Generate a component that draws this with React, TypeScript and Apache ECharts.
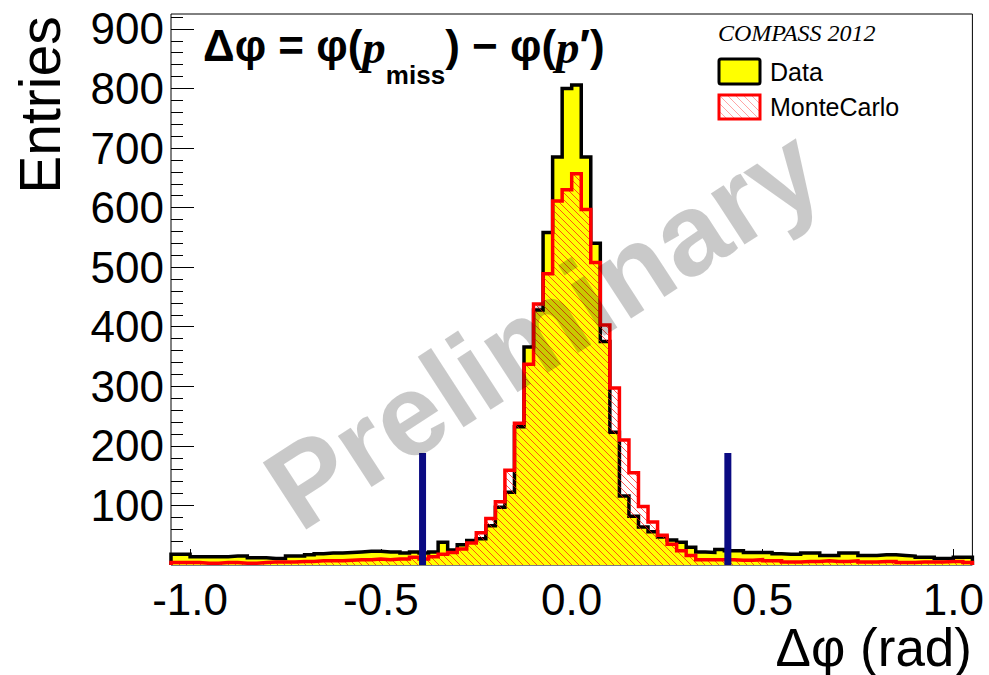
import React, { useEffect, useRef } from 'react';
import * as echarts from 'echarts';

// ---- data ----
const X_MIN = -1.05;
const X_MAX = 1.05;
const BIN_WIDTH = 0.025;

// Data histogram (84 bins of 0.025 rad from -1.05 to 1.05)
const dataCounts = [
  18, 18, 14, 14, 14, 14, 15, 15, 12, 12,
  11, 11, 15, 15, 17, 19, 20, 20, 21, 22,
  23, 23, 22, 22, 20, 22, 20, 22, 38, 25,
  34, 41, 44, 66, 97, 122, 232, 366, 428, 558,
  685, 800, 806, 685, 540, 375, 223, 116, 82, 64,
  56, 47, 42, 38, 30, 22, 21, 26, 24, 24,
  21, 21, 21, 19, 18, 18, 20, 20, 16, 16,
  20, 20, 16, 16, 17, 17, 16, 15, 13, 13,
  11, 11, 13, 13,
];

// Monte Carlo histogram (same binning)
const mcCounts = [
  4, 4, 4, 3, 3, 4, 4, 3, 3, 4,
  5, 5, 5, 6, 6, 7, 7, 7, 8, 9,
  9, 10, 9, 10, 10, 13, 10, 14, 18, 21,
  27, 37, 54, 78, 106, 159, 238, 337, 438, 489,
  611, 630, 657, 597, 508, 403, 297, 210, 155, 98,
  72, 50, 35, 24, 16, 9, 9, 9, 9, 8,
  8, 9, 7, 7, 5, 5, 6, 6, 7, 6,
  6, 7, 5, 5, 6, 6, 4, 4, 5, 5,
  5, 6, 6, 4,
];

const xMajorTicks = [-1.0, -0.5, 0.0, 0.5, 1.0];
const xMinorTicks = [-1.0, -0.9, -0.8, -0.7, -0.6, -0.5, -0.4, -0.3, -0.2, -0.1, 0.0,
  0.1, 0.2, 0.3, 0.4, 0.5, 0.6, 0.7, 0.8, 0.9, 1.0];
const yMajorTicks = [100, 200, 300, 400, 500, 600, 700, 800, 900];
const Y_MAX = 925;
const Y_MINOR_STEP = 20;

const cutLines = [-0.4, 0.4];
const cutHeight = 188;

const legendTitle = 'COMPASS 2012';
const seriesNames = ['Data', 'MonteCarlo'];

function stepPoints(counts: number[]): number[][] {
  const pts: number[][] = [[X_MIN, 0]];
  counts.forEach((c, i) => {
    const lo = X_MIN + i * BIN_WIDTH;
    const hi = lo + BIN_WIDTH;
    pts.push([lo, c], [hi, c]);
  });
  pts.push([X_MAX, 0]);
  return pts;
}

const hatchSvg =
  '<svg xmlns="http://www.w3.org/2000/svg" width="7" height="7">' +
  '<path d="M0 0L7 7M-2 5L2 9M5 -2L9 2" stroke="#ff1010" stroke-width="1" stroke-opacity="0.7" fill="none"/></svg>';
const hatchUrl = 'data:image/svg+xml;charset=utf-8,' + encodeURIComponent(hatchSvg);
const hatchLegendSvg =
  '<svg xmlns="http://www.w3.org/2000/svg" width="8" height="8">' +
  '<path d="M0 0L8 8M-2 6L2 10M6 -2L10 2" stroke="#ff3030" stroke-width="0.8" stroke-opacity="0.55" fill="none"/></svg>';
const hatchLegendUrl = 'data:image/svg+xml;charset=utf-8,' + encodeURIComponent(hatchLegendSvg);

export default function App() {
  const ref = useRef<HTMLDivElement>(null);

  useEffect(() => {
    if (!ref.current) return;
    const chart = echarts.init(ref.current, undefined, { renderer: 'svg' });
    const hatch: any = { image: hatchUrl, repeat: 'repeat', imageWidth: 7, imageHeight: 7 };
    const hatchLegend: any = { image: hatchLegendUrl, repeat: 'repeat', imageWidth: 8, imageHeight: 8 };

    const yMinorTicks: number[] = [];
    for (let v = Y_MINOR_STEP; v < Y_MAX; v += Y_MINOR_STEP) yMinorTicks.push(v);

    const labelFont = { fontFamily: 'Liberation Sans', fontSize: 44, lineHeight: 40, color: '#000' };
    const noLine = { show: false, onZero: false };

    const option: any = {
      animation: false,
      backgroundColor: '#fff',
      grid: {
        left: 171, right: 16.6, top: 14, bottom: 110,
        show: true, borderColor: '#000', borderWidth: 1, backgroundColor: 'transparent',
      },
      xAxis: [
        {
          type: 'value', position: 'bottom', min: X_MIN, max: X_MAX,
          axisLine: noLine, splitLine: { show: false },
          axisTick: { show: true, inside: true, length: 16, customValues: xMajorTicks, lineStyle: { color: '#000', width: 1 } },
          axisLabel: { show: true, customValues: xMajorTicks, formatter: (v: number) => v.toFixed(1), margin: 14, ...labelFont },
        },
        {
          type: 'value', position: 'bottom', offset: 0, min: X_MIN, max: X_MAX,
          axisLine: noLine, splitLine: { show: false },
          axisTick: { show: true, inside: true, length: 8, customValues: xMinorTicks, lineStyle: { color: '#000', width: 1 } },
          axisLabel: { show: false },
        },
      ],
      yAxis: [
        {
          type: 'value', position: 'left', min: 0, max: Y_MAX,
          axisLine: noLine, splitLine: { show: false },
          axisTick: { show: true, inside: true, length: 23, customValues: yMajorTicks, lineStyle: { color: '#000', width: 1 } },
          axisLabel: { show: true, customValues: yMajorTicks, formatter: (v: number) => String(v), margin: 7, ...labelFont },
        },
        {
          type: 'value', position: 'left', offset: 0, min: 0, max: Y_MAX,
          axisLine: noLine, splitLine: { show: false },
          axisTick: { show: true, inside: true, length: 12, customValues: yMinorTicks, lineStyle: { color: '#000', width: 1 } },
          axisLabel: { show: false },
        },
      ],
      series: [
        {
          name: seriesNames[0], type: 'line', xAxisIndex: 0, yAxisIndex: 0,
          data: stepPoints(dataCounts), symbol: 'none', showSymbol: false,
          lineStyle: { color: '#000', width: 3.5, join: 'miter', cap: 'butt' },
          areaStyle: { color: '#ffff00', opacity: 1 },
          z: 2,
        },
        {
          name: seriesNames[1], type: 'line', xAxisIndex: 0, yAxisIndex: 0,
          data: stepPoints(mcCounts), symbol: 'none', showSymbol: false,
          lineStyle: { color: '#ff0000', width: 3.5, join: 'miter', cap: 'butt' },
          areaStyle: { color: hatch, opacity: 1 },
          z: 3,
        },
        {
          type: 'custom', xAxisIndex: 0, yAxisIndex: 0, z: 5,
          data: cutLines.map((x) => [x, cutHeight]),
          renderItem: (params: any, api: any) => {
            const p0 = api.coord([api.value(0), 0]);
            const p1 = api.coord([api.value(0), api.value(1)]);
            return {
              type: 'rect',
              shape: { x: p0[0], y: p1[1], width: 7, height: p0[1] - p1[1] },
              style: { fill: '#0a0a82' },
            };
          },
        },
      ],
      graphic: [
        // watermark
        {
          type: 'text', x: 543, y: 328, rotation: (33 * Math.PI) / 180, z: 100,
          style: {
            text: 'Preliminary', fontFamily: 'Liberation Sans', fontWeight: 'bold', fontSize: 116,
            fill: 'rgba(0,0,0,0.21)', align: 'center', verticalAlign: 'middle',
            textAlign: 'center', textVerticalAlign: 'middle',
          },
        },
        // title (single rich text)
        {
          type: 'text', x: 203, y: 23, z: 50,
          style: {
            text: '{m|Δφ = φ(}{i|p}{s|miss}{m|) − φ(}{i|p}{m|′)}',
            fill: '#000', align: 'left', verticalAlign: 'top', textAlign: 'left', textVerticalAlign: 'top',
            rich: {
              m: { fontFamily: 'Liberation Sans', fontWeight: 'bold', fontSize: 44, lineHeight: 50, verticalAlign: 'top', fill: '#000' },
              i: { fontFamily: 'Liberation Serif', fontWeight: 'bold', fontStyle: 'italic', fontSize: 47, lineHeight: 50, verticalAlign: 'top', fill: '#000' },
              s: { fontFamily: 'Liberation Sans', fontWeight: 'bold', fontSize: 26, lineHeight: 26, verticalAlign: 'top', padding: [39, 0, 0, 0], fill: '#000' },
            },
          },
        },
        // legend
        {
          type: 'text', x: 718, y: 33, z: 50,
          style: { text: legendTitle, fontFamily: 'Liberation Serif', fontStyle: 'italic', fontSize: 24, fill: '#000', align: 'left', verticalAlign: 'middle', textAlign: 'left', textVerticalAlign: 'middle' },
        },
        {
          type: 'rect', z: 50, shape: { x: 719, y: 59, width: 41, height: 25, r: 2 },
          style: { fill: '#ffff00', stroke: '#000', lineWidth: 3 },
        },
        {
          type: 'text', x: 770, y: 72, z: 50,
          style: { text: seriesNames[0], fontFamily: 'Liberation Sans', fontSize: 25, fill: '#000', align: 'left', verticalAlign: 'middle', textAlign: 'left', textVerticalAlign: 'middle' },
        },
        {
          type: 'rect', z: 50, shape: { x: 719, y: 95, width: 41, height: 24 },
          style: { fill: hatchLegend, stroke: '#ff0000', lineWidth: 3 },
        },
        {
          type: 'text', x: 770, y: 107, z: 50,
          style: { text: seriesNames[1], fontFamily: 'Liberation Sans', fontSize: 25, fill: '#000', align: 'left', verticalAlign: 'middle', textAlign: 'left', textVerticalAlign: 'middle' },
        },
        // axis titles
        {
          type: 'text', x: 40, y: 105, rotation: Math.PI / 2, z: 50,
          style: { text: 'Entries', fontFamily: 'Liberation Sans', fontSize: 57, lineHeight: 57, fill: '#000', align: 'center', verticalAlign: 'middle', textAlign: 'center', textVerticalAlign: 'middle' },
        },
        {
          type: 'text', x: 972, y: 647, z: 50,
          style: { text: 'Δφ (rad)', fontFamily: 'Liberation Sans', fontSize: 53, lineHeight: 44, fill: '#000', align: 'right', verticalAlign: 'middle', textAlign: 'right', textVerticalAlign: 'middle' },
        },
      ],
    };

    chart.setOption(option);
    return () => chart.dispose();
  }, []);

  return (
    <div
      ref={ref}
      style={{ position: 'fixed', left: 0, top: 0, width: 989, height: 675, background: '#fff' }}
    />
  );
}
